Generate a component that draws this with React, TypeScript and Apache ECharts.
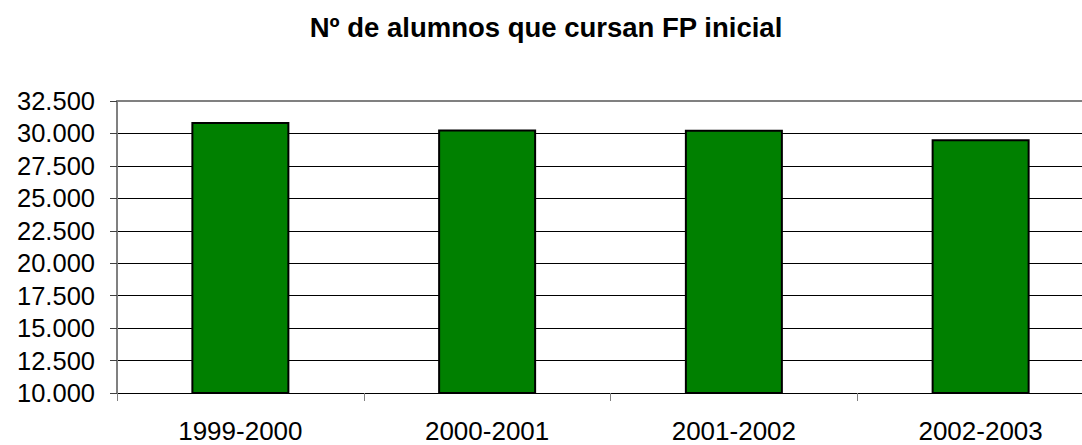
import React, { useEffect, useRef } from "react";
import * as echarts from "echarts";

const titleText = "Nº de alumnos que cursan FP inicial";
const categories = ["1999-2000", "2000-2001", "2001-2002", "2002-2003"];
const alumnos = [30885, 30300, 30280, 29550];
const yMin = 10000;
const yMax = 32500;
const yStep = 2500;

function fmt(v: number): string {
  const s = Math.round(v).toString();
  return s.replace(/\B(?=(\d{3})+(?!\d))/g, ".");
}

export default function App() {
  const ref = useRef<HTMLDivElement>(null);
  useEffect(() => {
    if (!ref.current) return;
    const chart = echarts.init(ref.current, undefined, { renderer: "svg" });
    const font = "Arial, 'Liberation Sans', sans-serif";
    chart.setOption({
      animation: false,
      backgroundColor: "#ffffff",
      title: {
        text: titleText,
        left: 541,
        textAlign: "center",
        top: 8,
        textStyle: { fontFamily: font, fontSize: 27.5, fontWeight: "bold", color: "#000" },
      },
      grid: {
        left: 117,
        width: 987,
        top: 101,
        bottom: 52,
        outerBoundsMode: "none",
        containLabel: false,
      },
      xAxis: [
        {
          type: "category",
          data: categories,
          axisLine: { show: true, lineStyle: { color: "#000", width: 1 } },
          axisTick: { show: true, length: 8, lineStyle: { color: "#808080", width: 1 } },
          axisLabel: { fontFamily: font, fontSize: 26, color: "#000", margin: 25 },
          splitLine: { show: false },
        },
        {
          type: "category",
          data: categories,
          position: "top",
          axisLine: { show: true, lineStyle: { color: "#808080", width: 2 } },
          axisTick: { show: false },
          axisLabel: { show: false },
          splitLine: { show: false },
        },
      ],
      yAxis: {
        type: "value",
        min: yMin,
        max: yMax,
        interval: yStep,
        axisLine: { show: true, lineStyle: { color: "#808080", width: 2 } },
        axisTick: { show: true, length: 7, lineStyle: { color: "#404040", width: 1 } },
        axisLabel: {
          fontFamily: font,
          fontSize: 25.5,
          color: "#000",
          margin: 22,
          formatter: (v: number) => fmt(v),
        },
        splitLine: { show: true, showMaxLine: false, lineStyle: { color: "#000", width: 1 } },
      },
      series: [
        {
          type: "bar",
          data: alumnos,
          barWidth: 98,
          itemStyle: { color: "#008000", borderColor: "#000", borderWidth: 2 },
        },
      ],
    });
    return () => chart.dispose();
  }, []);
  return (
    <div style={{ position: "fixed", left: 0, top: 0, width: 1082, height: 445, overflow: "hidden", background: "#fff" }}>
      <div ref={ref} style={{ width: 1130, height: 445 }} />
    </div>
  );
}
